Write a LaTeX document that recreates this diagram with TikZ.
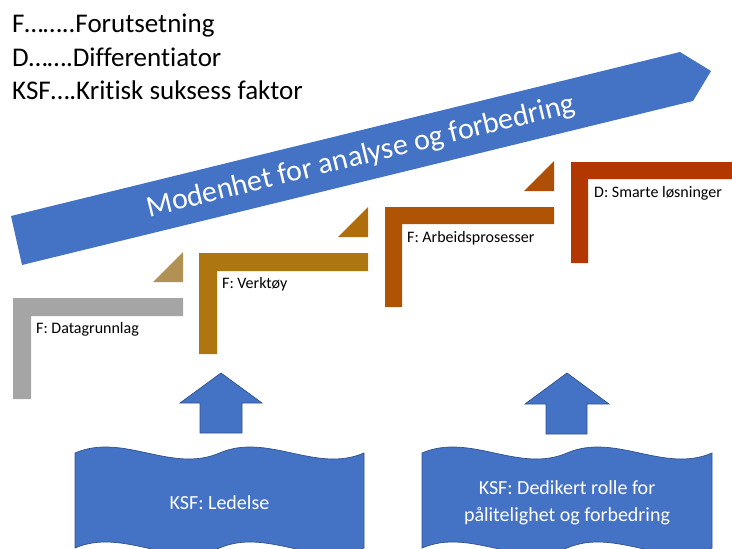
\documentclass[tikz,border=0pt]{standalone}
\usepackage{fontspec}
\setmainfont[Ligatures=NoCommon]{Carlito}
\definecolor{pblue}{HTML}{4472C4}
\definecolor{pblueline}{HTML}{2F528F}
\definecolor{lgray}{HTML}{A5A5A5}
\definecolor{lgold}{HTML}{AE7611}
\definecolor{lorange}{HTML}{AE5404}
\definecolor{lred}{HTML}{B33701}
\definecolor{tone}{HTML}{B29154}
\definecolor{ttwo}{HTML}{AF6D0C}
\definecolor{tthree}{HTML}{AF4E07}
\begin{document}
\begin{tikzpicture}[x=1pt,y=-1pt,
  legend/.style={anchor=base west,inner sep=0pt,font=\fontsize{27}{30}\selectfont},
  lbl/.style={anchor=west,inner sep=0pt,font=\fontsize{16}{19}\selectfont},
  wavetxt/.style={text=white,align=center,inner sep=0pt,font=\fontsize{20}{27}\selectfont},
  upar/.style={fill=pblue,draw=pblueline,line width=0.7pt,line join=miter},
  wavebox/.style={fill=pblue,draw=pblueline,line width=0.7pt}]
\useasboundingbox (0,0) rectangle (732,549);
\clip (0,0) rectangle (732,549);
% legend
\node[legend] (l1) at (12,32) {F……..Forutsetning};
\node[legend] (l2) at (12,66) {D…….Differentiator};
\node[legend] (l3) at (12,99) {KSF….Kritisk suksess faktor};
% big arrow
\fill[pblue] (11,216) -- (680,52) -- (711,71) -- (693,101) -- (22,265) -- cycle;
\node[text=white,rotate=13.8,inner sep=0pt,font=\fontsize{30}{34}\selectfont] (big) at (361,157) {Modenhet for analyse og forbedring};
% L shapes
\fill[lgray] (13,298) -- (183,298) -- (183,316) -- (31,316) -- (31,399) -- (13,399) -- cycle;
\fill[lgold] (199,253) -- (368,253) -- (368,271) -- (217,271) -- (217,354) -- (199,354) -- cycle;
\fill[lorange] (385,207) -- (554,207) -- (554,224) -- (402,224) -- (402,307) -- (385,307) -- cycle;
\fill[lred] (571,162) -- (740,162) -- (740,179) -- (588,179) -- (588,263) -- (571,263) -- cycle;
% triangles
\fill[tone] (153,282) -- (183,282) -- (183,252) -- cycle;
\fill[ttwo] (338,237) -- (368,237) -- (368,207) -- cycle;
\fill[tthree] (524,191) -- (554,191) -- (554,161) -- cycle;
% labels
\node[lbl] (d1) at (36,329) {F: Datagrunnlag};
\node[lbl] (d2) at (222,284) {F: Verktøy};
\node[lbl] (d3) at (407,238) {F: Arbeidsprosesser};
\node[lbl] (d4) at (594,193) {D: Smarte løsninger};
% up arrows
\draw[upar] (221,373) -- (262,403) -- (242,403) -- (242,433) -- (200,433) -- (200,403) -- (180,403) -- cycle;
\draw[upar] (567,373) -- (609,404) -- (587,404) -- (587,434) -- (546,434) -- (546,404) -- (525,404) -- cycle;
% wave boxes
\draw[wavebox] (75,453) .. controls (123.17,432.2) and (171.33,473.8) .. (219.5,453)
  .. controls (267.67,432.2) and (315.83,473.8) .. (364,453) -- (364,548)
  .. controls (315.83,568.8) and (267.67,527.2) .. (219.5,548)
  .. controls (171.33,568.8) and (123.17,527.2) .. (75,548) -- cycle;
\draw[wavebox] (422,453) .. controls (470.33,432.2) and (518.67,473.8) .. (567,453)
  .. controls (615.33,432.2) and (663.67,473.8) .. (712,453) -- (712,548)
  .. controls (663.67,568.8) and (615.33,527.2) .. (567,548)
  .. controls (518.67,568.8) and (470.33,527.2) .. (422,548) -- cycle;
\node[wavetxt] (k1) at (219.5,503) {KSF: Ledelse};
\node[wavetxt] (k2) at (567,503) {KSF: Dedikert rolle for\\pålitelighet og forbedring};
\end{tikzpicture}
\end{document}
